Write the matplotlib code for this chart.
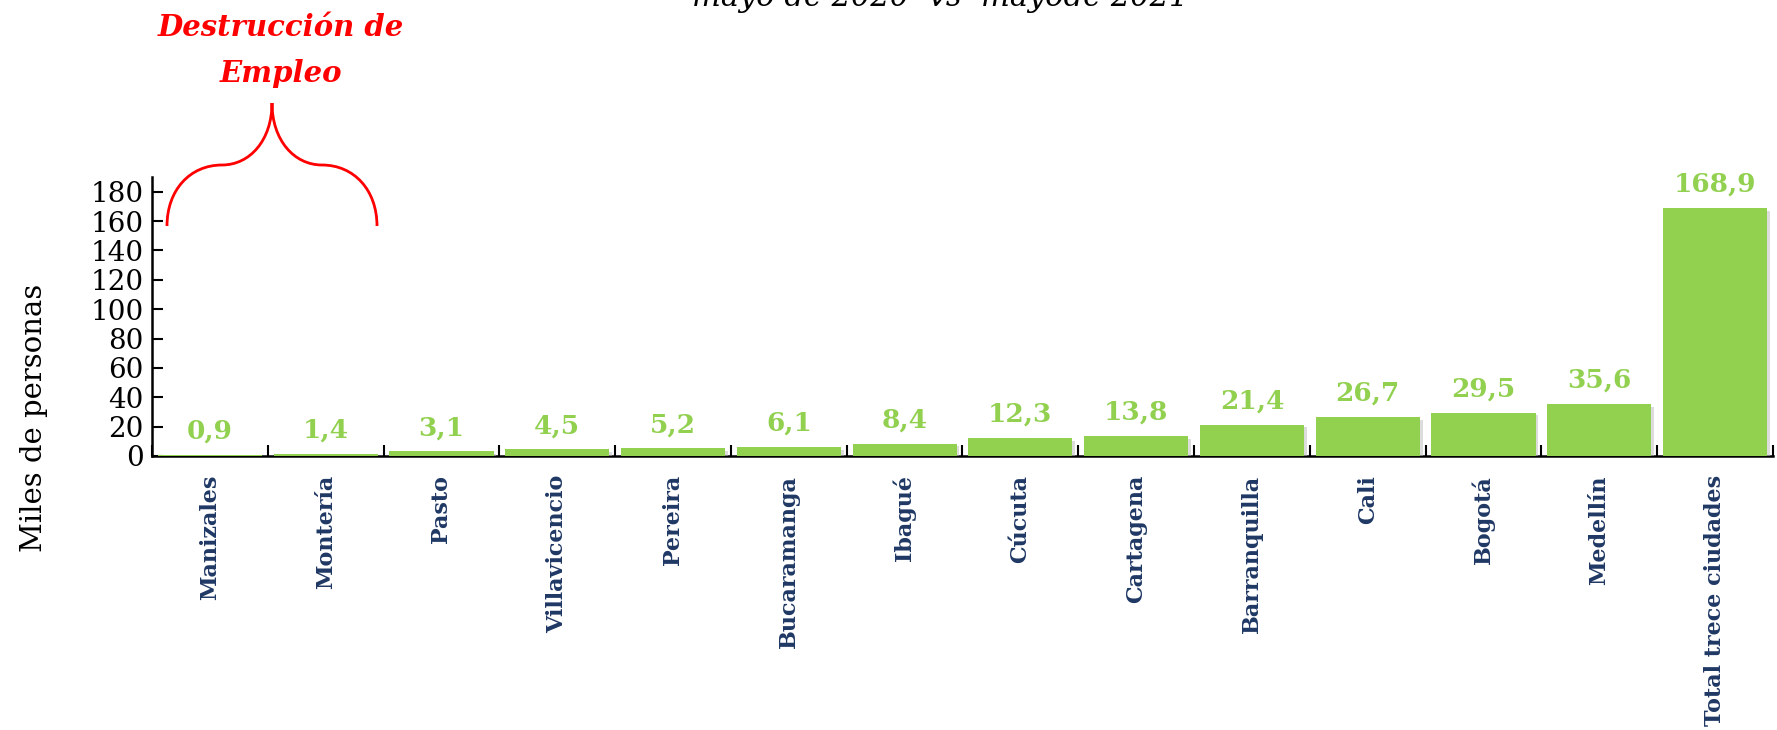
import matplotlib
matplotlib.use("Agg")
import matplotlib.pyplot as plt
import matplotlib.patheffects as pe
from matplotlib.path import Path
from matplotlib.patches import PathPatch
import numpy as np

ciudades = ["Manizales", "Montería", "Pasto", "Villavicencio", "Pereira",
            "Bucaramanga", "Ibagué", "Cúcuta", "Cartagena", "Barranquilla",
            "Cali", "Bogotá", "Medellín", "Total trece ciudades"]
empleo = [0.9, 1.4, 3.1, 4.5, 5.2, 6.1, 8.4, 12.3, 13.8, 21.4, 26.7, 29.5, 35.6, 168.9]
y_ticks = [0, 20, 40, 60, 80, 100, 120, 140, 160, 180]

VERDE = "#92D050"
AZUL = "#1F3864"
W, H = 1777, 730

plt.rcParams["font.family"] = ["DejaVu Serif"]

fig = plt.figure(figsize=(W / 100, H / 100), dpi=100)
ax = fig.add_axes([152 / W, 1 - 456 / H, (1773 - 152) / W, (456 - 177) / H])

x = np.arange(len(ciudades))
bars = ax.bar(x, empleo, width=0.9, color=VERDE, zorder=3)
for b in bars:
    b.set_path_effects([pe.SimplePatchShadow(offset=(2, -2), shadow_rgbFace="#bbbbbb", alpha=0.5),
                        pe.Normal()])

for xi, v in zip(x, empleo):
    ax.annotate(f"{v:.1f}".replace(".", ","), (xi, v), xytext=(0, 8),
                textcoords="offset points", ha="center", va="bottom",
                fontsize=19, fontweight="bold", color=VERDE)

ax.set_xlim(-0.5, len(ciudades) - 0.5)
ax.set_ylim(0, 190)
ax.set_yticks(y_ticks)
ax.set_yticklabels([str(t) for t in y_ticks], fontsize=20)
ax.tick_params(axis="y", direction="in", length=8, width=1.5, pad=6)

# category ticks sit between bars, labels at bar centers
ax.set_xticks(np.arange(len(ciudades) + 1) - 0.5)
ax.set_xticklabels([])
ax.tick_params(axis="x", direction="in", length=8, width=1.5)
for xi, name in zip(x, ciudades):
    ax.text(xi, -13, name, rotation=90, ha="center", va="top",
            fontsize=16, fontweight="bold", color=AZUL)

for s in ["top", "right"]:
    ax.spines[s].set_visible(False)
for s in ["left", "bottom"]:
    ax.spines[s].set_linewidth(1.8)

fig.text(34 / W, 1 - 418 / H, "Miles de personas", rotation=90,
         ha="center", va="center", fontsize=21)

fig.text(940 / W, 1 - 6 / H, "mayo de 2020  vs  mayode 2021",
         ha="center", va="baseline", fontsize=22, style="italic")

fig.text(281 / W, 1 - 28 / H, "Destrucción de", ha="center", va="center",
         fontsize=21, fontweight="bold", style="italic", color="red")
fig.text(281 / W, 1 - 74 / H, "Empleo", ha="center", va="center",
         fontsize=21, fontweight="bold", style="italic", color="red")

# curly brace over the first two cities
pts = [(167, 226), (167, 190), (190, 165), (222, 165),
       (250, 165), (272, 140), (272, 103),
       (272, 140), (294, 165), (322, 165),
       (354, 165), (377, 190), (377, 226)]
codes = [Path.MOVETO] + [Path.CURVE4] * 12
verts = [(px / W, 1 - py / H) for px, py in pts]
fig.add_artist(PathPatch(Path(verts, codes), transform=fig.transFigure,
                         fill=False, edgecolor="red", linewidth=2))

fig.savefig("out.png", dpi=100)
